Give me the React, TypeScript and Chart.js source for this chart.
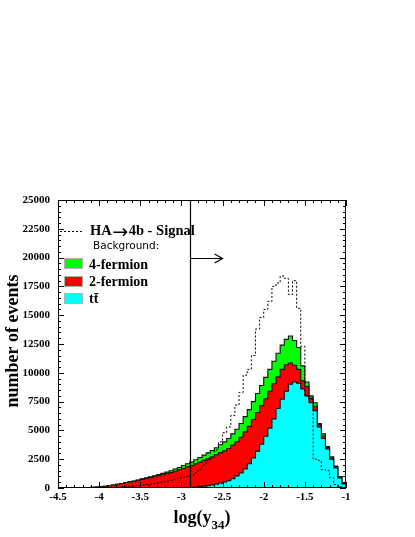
import React, { useEffect, useRef } from "react";
import { Chart, registerables } from "chart.js";

Chart.register(...registerables);

// ---- Data (70 bins of width 0.05 on log(y34) from -4.5 to -1) ----
const X_MIN = -4.5;
const X_MAX = -1;
const BIN_WIDTH = 0.05;
const Y_MAX = 25000;
const Y_STEP = 2500;

const ttbar = [
  0, 0, 0, 0, 0, 0, 0, 0, 0, 0,
  0, 0, 0, 0, 0, 0, 0, 0, 0, 0,
  0, 0, 0, 0, 5, 5, 10, 15, 20, 30,
  40, 55, 70, 90, 120, 160, 210, 270, 340, 420,
  520, 640, 800, 1050, 1300, 1650, 2100, 2600, 3200, 3800,
  4500, 5200, 6000, 6900, 7700, 8400, 9000, 9200, 9100, 8600,
  8000, 7400, 6700, 5300, 4300, 3400, 2500, 1750, 880, 350,
];

const twoFermion = [
  0, 0, 0, 5, 10, 15, 25, 40, 60, 85,
  110, 150, 200, 260, 320, 385, 450, 515, 590, 670,
  750, 830, 910, 980, 1055, 1145, 1230, 1325, 1440, 1550,
  1680, 1785, 1880, 2010, 2130, 2240, 2340, 2420, 2540, 2630,
  2700, 2790, 2930, 2970, 3100, 3220, 3250, 3350, 3350, 3350,
  3250, 3200, 3050, 2750, 2600, 2300, 1850, 1450, 1200, 700,
  800, 400, 400, 200, 200, 120, 100, 100, 90, 40,
];

const fourFermion = [
  0, 0, 0, 0, 0, 0, 0, 0, 0, 0,
  0, 0, 0, 0, 0, 5, 10, 15, 20, 30,
  40, 50, 60, 80, 100, 120, 140, 160, 180, 200,
  230, 260, 300, 350, 400, 450, 500, 560, 620, 700,
  780, 870, 970, 1080, 1200, 1330, 1450, 1550, 1650, 1750,
  1850, 1900, 1950, 2050, 2100, 2200, 2350, 2150, 1900, 1300,
  400, 200, 300, 100, 200, 80, 100, 50, 30, 10,
];

const signal = [
  0, 0, 0, 0, 0, 0, 0, 0, 0, 0,
  0, 0, 0, 30, 60, 90, 120, 150, 180, 220,
  260, 300, 350, 400, 450, 550, 600, 650, 750, 850,
  950, 1000, 1100, 1300, 1600, 2000, 2400, 2700, 3300, 4000,
  4800, 5300, 6300, 7200, 8300, 9800, 10300, 11500, 13800, 14800,
  15500, 16200, 17500, 17800, 18400, 18200, 16800, 18000, 15600, 12300,
  8000, 7700, 2500, 2400, 1600, 1500, 900, 300, 100, 30,
];

const CUT_X = -2.9;
const ARROW_END_X = -2.5;
const ARROW_Y = 20000;

const SIGNAL_LABEL_A = "HA";
const SIGNAL_ARROW = "\u2192";
const SIGNAL_LABEL_B = "4b - Signal";
const BACKGROUND_LABEL = "Background:";
const LEGEND_LABELS = ["4-fermion", "2-fermion", "tt\u0304"];
const COLORS = { fourF: "#00ff00", twoF: "#ff0000", tt: "#00ffff" };

const X_TITLE_MAIN = "log(y";
const X_TITLE_SUB = "34";
const X_TITLE_END = ")";
const Y_TITLE = "number of events";

// ---- helpers ----
function cumulative(...arrs: number[][]) {
  return arrs[0].map((_, i) => arrs.reduce((s, a) => s + a[i], 0));
}

function stepPath(values: number[]) {
  const pts: { x: number; y: number }[] = [{ x: X_MIN, y: 0 }];
  values.forEach((v, i) => {
    const x0 = X_MIN + i * BIN_WIDTH;
    pts.push({ x: x0, y: v }, { x: x0 + BIN_WIDTH, y: v });
  });
  pts.push({ x: X_MIN + values.length * BIN_WIDTH, y: 0 });
  return pts;
}

const SERIF = '"Liberation Serif", "Times New Roman", serif';

const decorPlugin = {
  id: "decor",
  afterDraw(chart: any) {
    const { ctx, chartArea: a, scales } = chart;
    const xs = scales.x;
    const ys = scales.y;
    ctx.save();
    ctx.strokeStyle = "#000";
    ctx.fillStyle = "#000";
    ctx.lineWidth = 1;

    // frame
    ctx.strokeRect(a.left + 0.5, a.top + 0.5, a.right - a.left - 1, a.bottom - a.top - 1);

    // inner ticks
    ctx.beginPath();
    const nx = Math.round((X_MAX - X_MIN) / 0.1);
    for (let k = 0; k <= nx; k++) {
      const v = X_MIN + k * 0.1;
      const px = Math.round(xs.getPixelForValue(v)) + 0.5;
      const len = k % 5 === 0 ? 6 : 3;
      ctx.moveTo(px, a.bottom);
      ctx.lineTo(px, a.bottom - len);
      ctx.moveTo(px, a.top);
      ctx.lineTo(px, a.top + len);
    }
    const ny = Math.round(Y_MAX / 500);
    for (let k = 0; k <= ny; k++) {
      const v = k * 500;
      const py = Math.round(ys.getPixelForValue(v)) + 0.5;
      const len = k % 5 === 0 ? 6 : 3;
      ctx.moveTo(a.left, py);
      ctx.lineTo(a.left + len, py);
      ctx.moveTo(a.right, py);
      ctx.lineTo(a.right - len, py);
    }
    ctx.stroke();

    // cut line + arrow
    const cx = Math.round(xs.getPixelForValue(CUT_X)) + 0.5;
    const ay = Math.round(ys.getPixelForValue(ARROW_Y)) + 0.5;
    const ax = xs.getPixelForValue(ARROW_END_X);
    ctx.lineWidth = 1.2;
    ctx.beginPath();
    ctx.moveTo(cx, a.top);
    ctx.lineTo(cx, a.bottom);
    ctx.moveTo(cx, ay);
    ctx.lineTo(ax, ay);
    ctx.moveTo(ax - 8, ay - 4.5);
    ctx.lineTo(ax, ay);
    ctx.lineTo(ax - 8, ay + 4.5);
    ctx.stroke();

    // legend
    ctx.lineWidth = 1;
    ctx.setLineDash([2, 2]);
    ctx.beginPath();
    ctx.moveTo(60, 231.5);
    ctx.lineTo(84, 231.5);
    ctx.stroke();
    ctx.setLineDash([]);
    ctx.textAlign = "left";
    ctx.textBaseline = "alphabetic";
    ctx.font = `bold 14.5px ${SERIF}`;
    ctx.fillText(SIGNAL_LABEL_A, 90, 234.5);
    const hw = ctx.measureText(SIGNAL_LABEL_A).width;
    ctx.font = '19px "DejaVu Sans", sans-serif';
    ctx.fillText(SIGNAL_ARROW, 90 + hw + 0.5, 237.5);
    const aw = ctx.measureText(SIGNAL_ARROW).width;
    ctx.font = `bold 14.5px ${SERIF}`;
    ctx.fillText(SIGNAL_LABEL_B, 90 + hw + aw + 1, 234.5);
    ctx.font = '10.5px "DejaVu Sans", sans-serif';
    ctx.fillText(BACKGROUND_LABEL, 93, 248.5);

    const boxes = [
      { color: COLORS.fourF, y: 258, base: 268.5 },
      { color: COLORS.twoF, y: 276, base: 285.5 },
      { color: COLORS.tt, y: 293, base: 303 },
    ];
    boxes.forEach((b, i) => {
      ctx.fillStyle = b.color;
      ctx.fillRect(64, b.y, 19, 11);
      ctx.strokeStyle = "#b0b0b0";
      ctx.strokeRect(64.5, b.y + 0.5, 18, 10);
      ctx.fillStyle = "#000";
      ctx.font = `bold 14px ${SERIF}`;
      ctx.fillText(LEGEND_LABELS[i], 89, b.base);
    });

    // x title with subscript
    ctx.font = `bold 18px ${SERIF}`;
    const w1 = ctx.measureText(X_TITLE_MAIN).width;
    const w3 = ctx.measureText(X_TITLE_END).width;
    ctx.font = `bold 13px ${SERIF}`;
    const w2 = ctx.measureText(X_TITLE_SUB).width;
    const total = w1 + w2 + w3;
    let tx = 202 - total / 2;
    ctx.font = `bold 18px ${SERIF}`;
    ctx.fillText(X_TITLE_MAIN, tx, 523);
    tx += w1;
    ctx.font = `bold 13px ${SERIF}`;
    ctx.fillText(X_TITLE_SUB, tx, 529);
    tx += w2;
    ctx.font = `bold 18px ${SERIF}`;
    ctx.fillText(X_TITLE_END, tx, 523);

    // y title
    ctx.save();
    ctx.translate(18, 341);
    ctx.rotate(-Math.PI / 2);
    ctx.textAlign = "center";
    ctx.font = `bold 18px ${SERIF}`;
    ctx.fillText(Y_TITLE, 0, 0);
    ctx.restore();

    ctx.restore();
  },
};

export default function App() {
  const ref = useRef<HTMLCanvasElement | null>(null);

  useEffect(() => {
    if (!ref.current) return;
    const cumTT = cumulative(ttbar);
    const cum2F = cumulative(ttbar, twoFermion);
    const cum4F = cumulative(ttbar, twoFermion, fourFermion);

    const lineBase = {
      type: "line" as const,
      pointRadius: 0,
      borderWidth: 1.1,
      tension: 0,
      borderColor: "#111",
    };

    const chart = new Chart(ref.current, {
      type: "line",
      data: {
        datasets: [
          {
            ...lineBase,
            label: "4-fermion",
            data: stepPath(cum4F),
            backgroundColor: COLORS.fourF,
            fill: "origin",
            order: 3,
          },
          {
            ...lineBase,
            label: "2-fermion",
            data: stepPath(cum2F),
            backgroundColor: COLORS.twoF,
            fill: "origin",
            order: 2,
          },
          {
            ...lineBase,
            label: "tt",
            data: stepPath(cumTT),
            backgroundColor: COLORS.tt,
            fill: "origin",
            order: 1,
          },
          {
            ...lineBase,
            label: "Signal",
            data: stepPath(signal),
            borderColor: "#000",
            borderWidth: 1,
            borderDash: [2, 2],
            fill: false,
            order: 0,
          },
        ],
      },
      options: {
        responsive: false,
        animation: false,
        layout: { padding: { left: 0, top: 200, right: 69, bottom: 29 } },
        plugins: {
          legend: { display: false },
          tooltip: { enabled: false },
        },
        scales: {
          x: {
            type: "linear",
            min: X_MIN,
            max: X_MAX,
            grid: { display: false, drawTicks: false },
            border: { display: false },
            ticks: {
              stepSize: 0.5,
              padding: 3,
              color: "#000",
              autoSkip: false,
              maxRotation: 0,
              font: { family: SERIF, weight: "bold", size: 11 },
              callback: (v: any) => String(Math.round(Number(v) * 10) / 10),
            },
            afterFit: (s: any) => {
              s.height = 20;
            },
          },
          y: {
            type: "linear",
            min: 0,
            max: Y_MAX,
            grid: { display: false, drawTicks: false },
            border: { display: false },
            ticks: {
              stepSize: Y_STEP,
              padding: 8,
              color: "#000",
              autoSkip: false,
              font: { family: SERIF, weight: "bold", size: 11 },
              callback: (v: any) => String(v),
            },
            afterFit: (s: any) => {
              s.width = 58;
            },
          },
        },
      },
      plugins: [decorPlugin],
    } as any);

    return () => chart.destroy();
  }, []);

  return (
    <div style={{ position: "fixed", left: 0, top: 0, width: 415, height: 537, background: "#fff" }}>
      <canvas ref={ref} width={415} height={537} style={{ display: "block" }} />
    </div>
  );
}
